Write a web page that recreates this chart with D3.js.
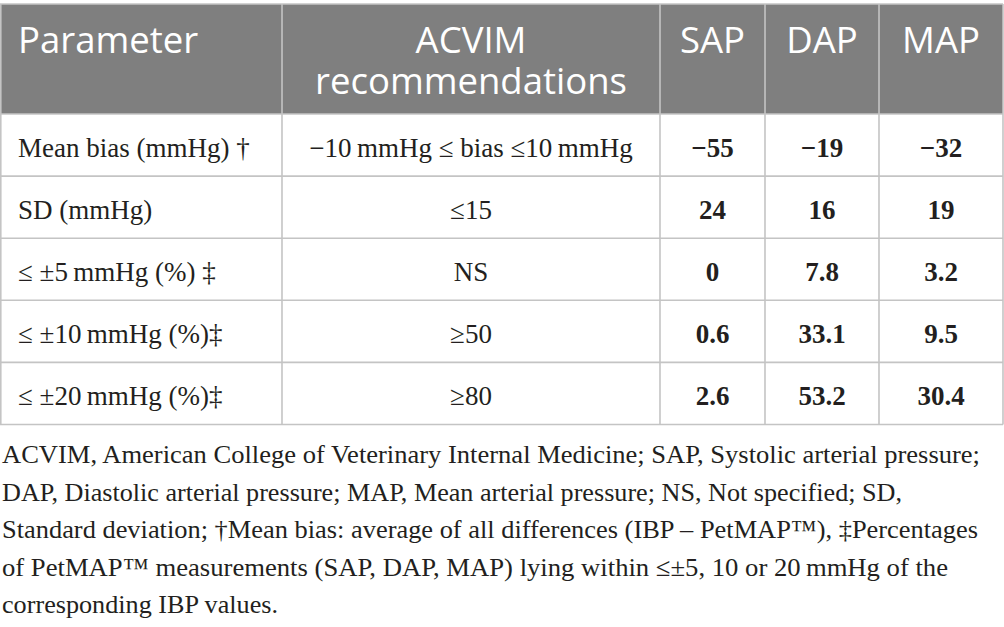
<!DOCTYPE html>
<html><head><meta charset="utf-8">
<script src="https://cdn.jsdelivr.net/npm/d3@7"></script>
<style>
html,body{margin:0;padding:0;background:#fff;}
svg{display:block;}
</style></head>
<body>
<svg id="chart" width="1004" height="627"></svg>
<script>
// ---- data ----
const columnHeaders = [["Parameter"], ["ACVIM", "recommendations"], ["SAP"], ["DAP"], ["MAP"]];
const parameters = [
  "Mean bias (mmHg) \u2020",
  "SD (mmHg)",
  "\u2264 \u00B15\u2009mmHg (%) \u2021",
  "\u2264 \u00B110\u2009mmHg (%)\u2021",
  "\u2264 \u00B120\u2009mmHg (%)\u2021"
];
const recommendations = [
  "\u221210\u2009mmHg \u2264 bias \u226410\u2009mmHg",
  "\u226415",
  "NS",
  "\u226550",
  "\u226580"
];
const sapValues = ["\u221255", "24", "0", "0.6", "2.6"];
const dapValues = ["\u221219", "16", "7.8", "33.1", "53.2"];
const mapValues = ["\u221232", "19", "3.2", "9.5", "30.4"];
const footnoteLines = [
  "ACVIM, American College of Veterinary Internal Medicine; SAP, Systolic arterial pressure;",
  "DAP, Diastolic arterial pressure; MAP, Mean arterial pressure; NS, Not specified; SD,",
  "Standard deviation; \u2020Mean bias: average of all differences (IBP \u2013 PetMAP\u2122), \u2021Percentages",
  "of PetMAP\u2122 measurements (SAP, DAP, MAP) lying within \u2264\u00B15, 10 or 20\u2009mmHg of the",
  "corresponding IBP values."
];

// ---- layout ----
const svg = d3.select("#chart");
const colEdges = [0, 282, 660, 765, 879, 1003];
const colKeys = d3.range(5);
const tableTop = 4, headerBottom = 114, tableBottom = 424.5;
const gridColor = "#c4c4c4", headerFill = "#7f7f7f", textColor = "#231f20";

const y = d3.scaleBand().domain(parameters).range([headerBottom, tableBottom]).padding(0);
const colLeft = d3.scaleOrdinal().domain(colKeys).range(colEdges.slice(0, 5));
const colRight = d3.scaleOrdinal().domain(colKeys).range(colEdges.slice(1));
const colCenter = k => (colLeft(k) + colRight(k)) / 2;

// header band
svg.append("rect").attr("x", colEdges[0]).attr("y", tableTop)
  .attr("width", colEdges[5] - colEdges[0]).attr("height", headerBottom - tableTop)
  .attr("fill", headerFill);

// header text
const hdr = svg.append("g").attr("font-family", "'Open Sans', sans-serif")
  .attr("font-size", 36.5).attr("fill", "#fff");
columnHeaders.forEach((lines, k) => {
  lines.forEach((t, i) => {
    hdr.append("text")
      .attr("x", k === 0 ? 18 : colCenter(k))
      .attr("y", 53.3 + i * 40.5)
      .attr("text-anchor", k === 0 ? "start" : "middle")
      .text(t);
  });
});

// body
const rows = parameters.map((p, i) => [p, recommendations[i], sapValues[i], dapValues[i], mapValues[i]]);
const body = svg.append("g").attr("font-family", "'Liberation Serif', 'Times New Roman', serif")
  .attr("font-size", 27).attr("fill", textColor);
rows.forEach((r, i) => {
  const yy = y(parameters[i]) + y.bandwidth() / 2 + 11.5;
  r.forEach((t, k) => {
    body.append("text")
      .attr("x", k === 0 ? 18 : colCenter(k))
      .attr("y", yy)
      .attr("text-anchor", k === 0 ? "start" : "middle")
      .attr("font-weight", k >= 2 ? "bold" : "normal")
      .text(t);
  });
});

// grid lines
const grid = svg.append("g").attr("stroke", gridColor).attr("stroke-width", 1.6).attr("fill", "none");
grid.append("line").attr("x1", colEdges[0]).attr("x2", colEdges[5]).attr("y1", tableTop).attr("y2", tableTop);
grid.append("line").attr("x1", colEdges[0]).attr("x2", colEdges[5]).attr("y1", headerBottom).attr("y2", headerBottom);
parameters.forEach(p => {
  const yb = y(p) + y.bandwidth();
  grid.append("line").attr("x1", colEdges[0]).attr("x2", colEdges[5]).attr("y1", yb).attr("y2", yb);
});
colEdges.slice(1).forEach(x => {
  grid.append("line").attr("x1", x).attr("x2", x).attr("y1", tableTop).attr("y2", tableBottom);
});
grid.append("line").attr("x1", 0.8).attr("x2", 0.8).attr("y1", tableTop).attr("y2", tableBottom);

// footnote
const footWidths = [978, 900, 976, 946, 276];
const foot = svg.append("g").attr("font-family", "'Liberation Serif', 'Times New Roman', serif")
  .attr("font-size", 26).attr("fill", textColor);
footnoteLines.forEach((t, i) => {
  foot.append("text").attr("x", 2).attr("y", 463 + i * 37.6)
    .attr("textLength", footWidths[i]).attr("lengthAdjust", "spacingAndGlyphs")
    .text(t);
});
</script>
</body></html>
